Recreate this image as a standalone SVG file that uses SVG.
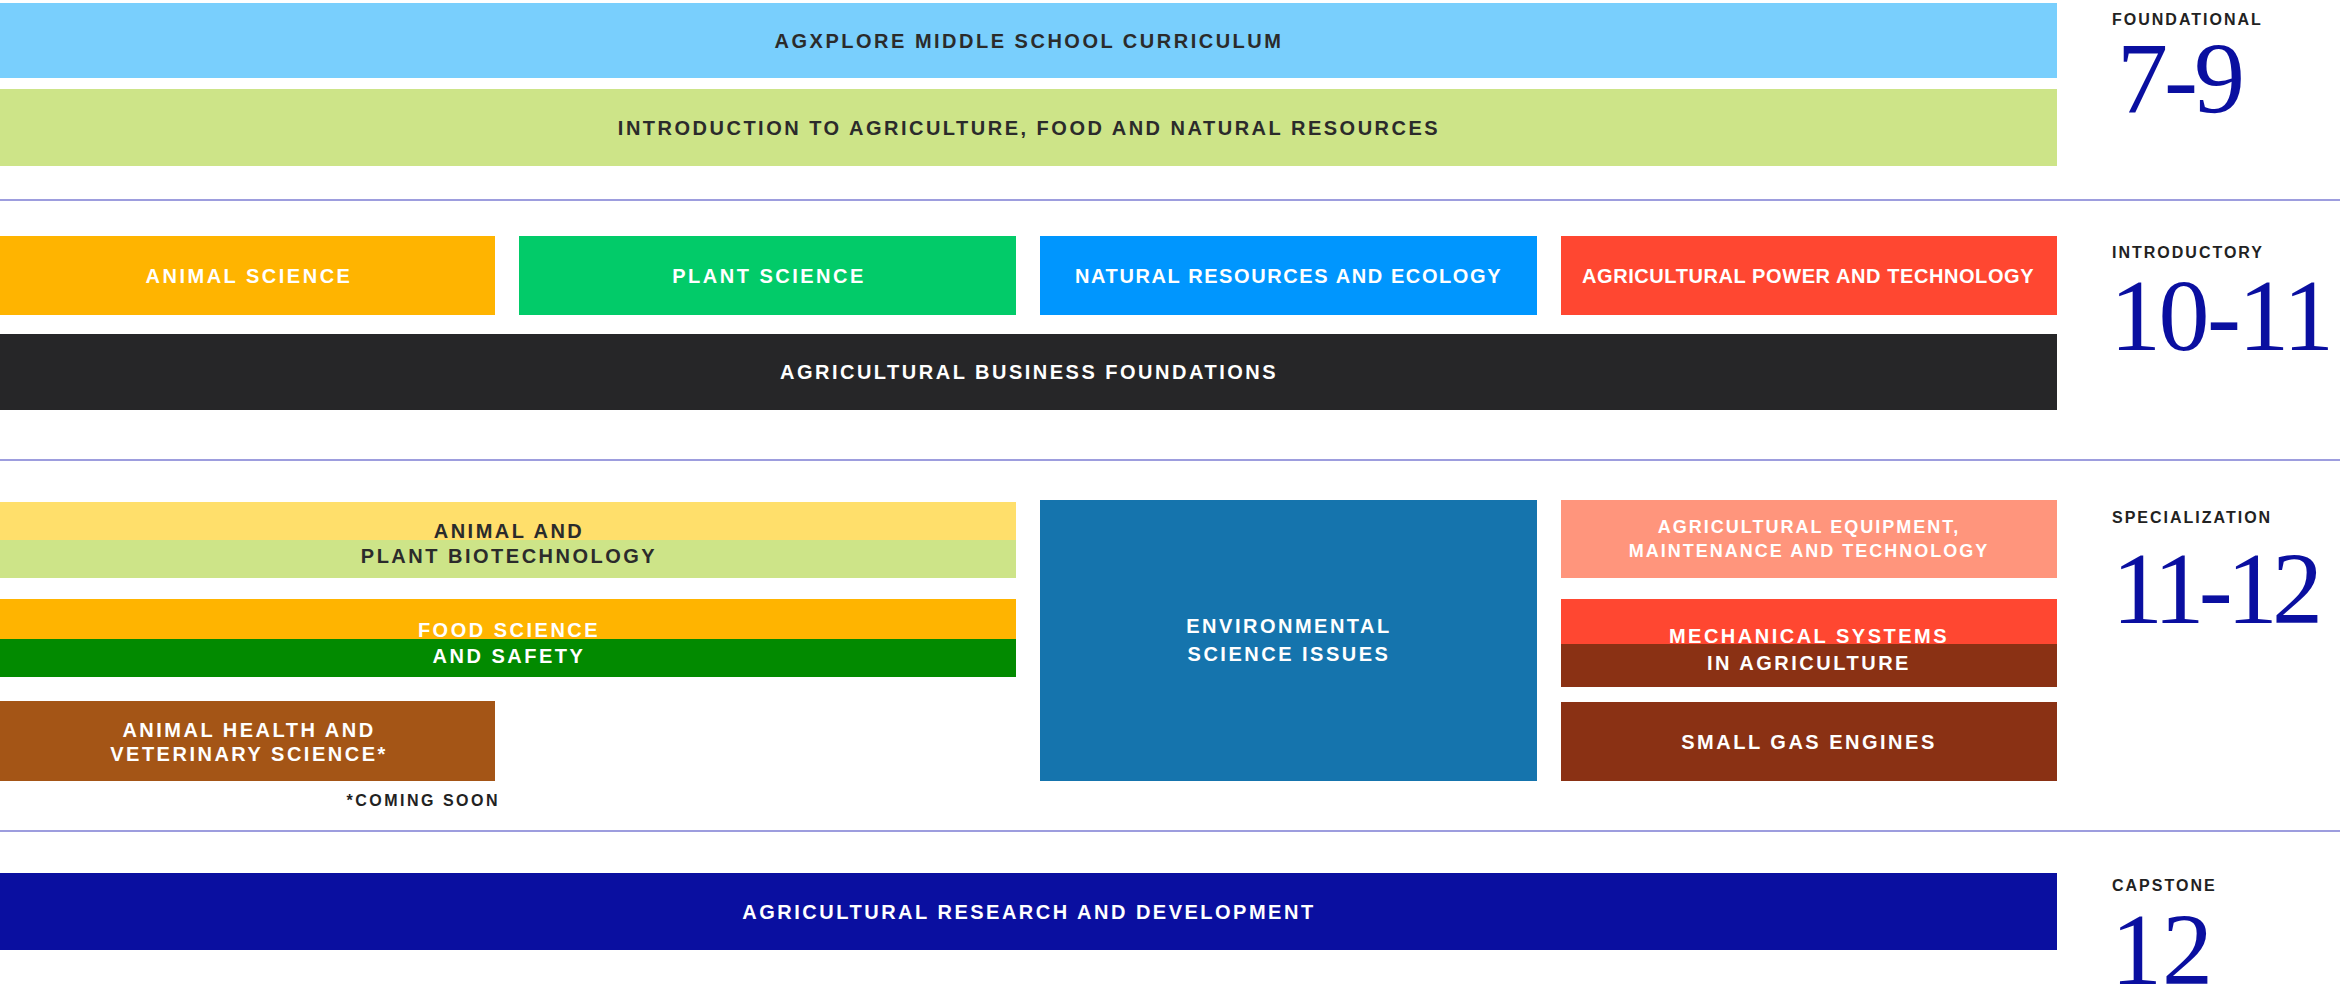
<svg xmlns="http://www.w3.org/2000/svg" width="2340" height="989" viewBox="0 0 2340 989">
<style>
.t{font-family:"Liberation Sans",Arial,sans-serif;font-weight:bold;font-size:20px;letter-spacing:2.5px;text-anchor:middle}
.s{font-size:18px;letter-spacing:2px}
.d{fill:#2b2b2b}
.w{fill:#ffffff}
.lbl{font-family:"Liberation Sans",Arial,sans-serif;font-weight:bold;font-size:16px;letter-spacing:2px;fill:#222222}
.num{font-family:"Liberation Serif","Times New Roman",serif;font-size:102px;fill:#0a0fa0}
.sep{stroke:#7d7dd3;stroke-width:1.5;fill:none}
</style>
<rect width="2340" height="989" fill="#ffffff"/>
<g id="separators">
<line class="sep" x1="0" y1="200" x2="2340" y2="200"/>
<line class="sep" x1="0" y1="460" x2="2340" y2="460"/>
<line class="sep" x1="0" y1="831" x2="2340" y2="831"/>
</g>
<g id="connectors"/>
<g id="agxplore">
<rect x="0" y="3" width="2057" height="75" fill="#79cffd"/>
<text class="t d" x="1029" y="48">AGXPLORE MIDDLE SCHOOL CURRICULUM</text>
</g>
<g id="intro-afnr">
<rect x="0" y="89" width="2057" height="77" fill="#cde488"/>
<text class="t d" x="1029" y="135">INTRODUCTION TO AGRICULTURE, FOOD AND NATURAL RESOURCES</text>
</g>
<g id="animal-science">
<rect x="0" y="236" width="495" height="79" fill="#ffb400"/>
<text class="t w" x="249" y="283">ANIMAL SCIENCE</text>
</g>
<g id="plant-science">
<rect x="519" y="236" width="497" height="79" fill="#02cb69"/>
<text class="t w" x="769" y="283">PLANT SCIENCE</text>
</g>
<g id="natural-resources">
<rect x="1040" y="236" width="497" height="79" fill="#0096fe"/>
<text class="t w" x="1289" y="283" textLength="428">NATURAL RESOURCES AND ECOLOGY</text>
</g>
<g id="ag-power">
<rect x="1561" y="236" width="496" height="79" fill="#ff4731"/>
<text class="t w" x="1809" y="283" textLength="454">AGRICULTURAL POWER AND TECHNOLOGY</text>
</g>
<g id="ag-business">
<rect x="0" y="334" width="2057" height="76" fill="#262628"/>
<text class="t w" x="1029" y="379">AGRICULTURAL BUSINESS FOUNDATIONS</text>
</g>
<g id="biotech">
<rect x="0" y="502" width="1016" height="38" fill="#ffdf6b"/>
<rect x="0" y="540" width="1016" height="38" fill="#cde488"/>
<text class="t d" x="509" y="538">ANIMAL AND</text>
<text class="t d" x="509" y="563">PLANT BIOTECHNOLOGY</text>
</g>
<g id="food-science">
<rect x="0" y="599" width="1016" height="40" fill="#ffb400"/>
<rect x="0" y="639" width="1016" height="38" fill="#028a00"/>
<text class="t w" x="509" y="637">FOOD SCIENCE</text>
<text class="t w" x="509" y="663">AND SAFETY</text>
</g>
<g id="animal-health">
<rect x="0" y="701" width="495" height="80" fill="#a45516"/>
<text class="t w" x="249" y="737">ANIMAL HEALTH AND</text>
<text class="t w" x="249" y="761">VETERINARY SCIENCE*</text>
<text class="lbl" x="500" y="806" text-anchor="end" style="letter-spacing:2.5px">*COMING SOON</text>
</g>
<g id="environmental">
<rect x="1040" y="500" width="497" height="281" fill="#1574ad"/>
<text class="t w" x="1289" y="633">ENVIRONMENTAL</text>
<text class="t w" x="1289" y="661">SCIENCE ISSUES</text>
</g>
<g id="ag-equipment">
<rect x="1561" y="500" width="496" height="78" fill="#ff957c"/>
<text class="t s w" x="1809" y="533">AGRICULTURAL EQUIPMENT,</text>
<text class="t s w" x="1809" y="557">MAINTENANCE AND TECHNOLOGY</text>
</g>
<g id="mechanical">
<rect x="1561" y="599" width="496" height="45" fill="#ff4731"/>
<rect x="1561" y="644" width="496" height="43" fill="#8a3114"/>
<text class="t w" x="1809" y="643">MECHANICAL SYSTEMS</text>
<text class="t w" x="1809" y="670">IN AGRICULTURE</text>
</g>
<g id="small-gas">
<rect x="1561" y="702" width="496" height="79" fill="#8a3114"/>
<text class="t w" x="1809" y="749">SMALL GAS ENGINES</text>
</g>
<g id="capstone-research">
<rect x="0" y="873" width="2057" height="77" fill="#0a0fa0"/>
<text class="t w" x="1029" y="919">AGRICULTURAL RESEARCH AND DEVELOPMENT</text>
</g>
<g id="level-foundational">
<text class="lbl" x="2112" y="25">FOUNDATIONAL</text>
<text class="num" x="2117" y="113" textLength="128">7-9</text>
</g>
<g id="level-introductory">
<text class="lbl" x="2112" y="258">INTRODUCTORY</text>
<text class="num" x="2110" y="350" textLength="224">10-11</text>
</g>
<g id="level-specialization">
<text class="lbl" x="2112" y="523">SPECIALIZATION</text>
<text class="num" x="2112" y="623" textLength="211">11-12</text>
</g>
<g id="level-capstone">
<text class="lbl" x="2112" y="891">CAPSTONE</text>
<text class="num" x="2111" y="984">12</text>
</g>
</svg>
